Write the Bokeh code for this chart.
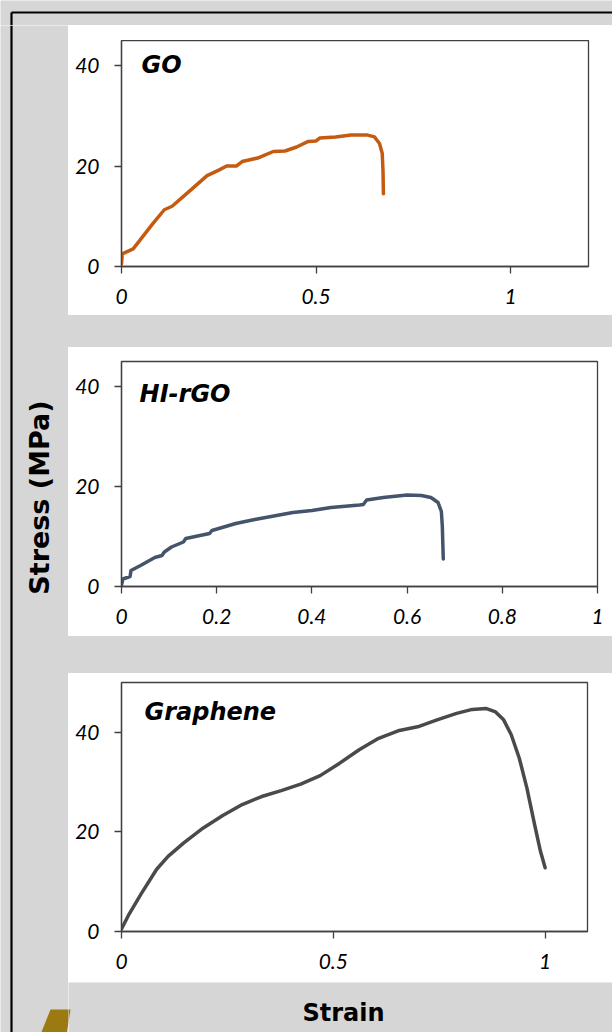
import math
from bokeh.plotting import figure
from bokeh.layouts import row, column
from bokeh.models import FixedTicker, Label, Range1d, Spacer
from bokeh.embed import file_html
from bokeh.resources import INLINE

# ---------------- data ----------------
go_strain = [0.0, 0.002, 0.03, 0.05, 0.08, 0.11, 0.13, 0.16, 0.22, 0.25, 0.27, 0.295, 0.31, 0.35,
             0.39, 0.42, 0.45, 0.48, 0.50, 0.51, 0.55, 0.59, 0.63, 0.65, 0.663, 0.67, 0.672, 0.673]
go_stress = [0.5, 2.5, 3.5, 5.5, 8.5, 11.3, 12.0, 14.0, 18.1, 19.2, 20.0, 20.0, 20.9, 21.6,
             22.9, 23.0, 23.8, 24.9, 25.0, 25.6, 25.8, 26.2, 26.2, 25.8, 24.5, 22.5, 19.0, 14.5]

hi_strain = [0.0, 0.003, 0.018, 0.02, 0.04, 0.07, 0.085, 0.09, 0.105, 0.13, 0.135, 0.17, 0.185, 0.19,
             0.24, 0.28, 0.32, 0.36, 0.40, 0.44, 0.50, 0.508, 0.515, 0.55, 0.60, 0.63, 0.65, 0.665,
             0.672, 0.674, 0.676]
hi_stress = [0.3, 1.5, 2.0, 3.2, 4.2, 5.8, 6.2, 6.9, 7.9, 8.9, 9.6, 10.3, 10.6, 11.2,
             12.6, 13.4, 14.1, 14.8, 15.2, 15.8, 16.3, 16.4, 17.3, 17.8, 18.3, 18.2, 17.8, 16.8,
             15.0, 12.0, 5.5]

gr_strain = [0.0, 0.018, 0.046, 0.083, 0.11, 0.147, 0.193, 0.239, 0.285, 0.331, 0.377, 0.423,
             0.469, 0.515, 0.561, 0.607, 0.653, 0.699, 0.745, 0.791, 0.828, 0.860, 0.883, 0.902,
             0.92, 0.939, 0.957, 0.975, 0.989, 1.0]
gr_stress = [0.5, 3.5, 7.5, 12.5, 15.1, 17.8, 20.8, 23.3, 25.5, 27.1, 28.3, 29.6,
             31.3, 33.8, 36.5, 38.8, 40.3, 41.1, 42.5, 43.8, 44.6, 44.8, 44.1, 42.5,
             39.5, 34.8, 28.8, 21.5, 16.1, 12.8]

panel_names = ["GO", "HI-rGO", "Graphene"]
x_ticks_go = [0, 0.5, 1]
x_labels_go = ["0", "0.5", "1"]
x_ticks_hi = [0, 0.2, 0.4, 0.6, 0.8, 1]
x_labels_hi = ["0", "0.2", "0.4", "0.6", "0.8", "1"]
x_ticks_gr = [0, 0.5, 1]
x_labels_gr = ["0", "0.5", "1"]
y_ticks = [0, 20, 40]
y_labels = ["0", "20", "40"]
x_label = "Strain"
y_label = "Stress (MPa)"

# ---------------- styles / geometry ----------------
BG = "#d6d6d6"
FRAME = "#404040"
GOLD = "#9c7a12"
TICK_FONT = "Lato"
TITLE_FONT = "DejaVu Sans"
FULL_W = 612
LEFT_W = 68
RIGHT_W = FULL_W - LEFT_W      # 544
B_LEFT = 53


def make_panel(h, xmax, ymax, top, bottom, right, xs, ys, color, name, name_pos, xt, xl):
    p = figure(width=RIGHT_W, height=h, x_range=Range1d(0, xmax), y_range=Range1d(0, ymax),
               output_backend="svg", toolbar_location=None,
               min_border_left=B_LEFT, min_border_right=right,
               min_border_top=top, min_border_bottom=bottom,
               background_fill_color="white", border_fill_color="white",
               outline_line_color=FRAME, outline_line_width=1.3)
    p.xgrid.visible = False
    p.ygrid.visible = False
    for ax, ticks, labels in ((p.xaxis[0], xt, xl), (p.yaxis[0], y_ticks, y_labels)):
        ax.ticker = FixedTicker(ticks=ticks)
        ax.major_label_overrides = {t: l for t, l in zip(ticks, labels)}
        ax.axis_line_color = FRAME
        ax.axis_line_width = 1.3
        ax.major_tick_line_color = FRAME
        ax.major_tick_line_width = 1.3
        ax.major_tick_in = 0
        ax.major_tick_out = 7
        ax.minor_tick_line_color = None
        ax.major_label_text_font = TICK_FONT
        ax.major_label_text_font_style = "italic"
        ax.major_label_text_font_size = "21px"
        ax.major_label_text_color = "black"
    p.yaxis[0].major_label_standoff = 15
    p.xaxis[0].major_label_standoff = 15
    p.line(xs, ys, line_color=color, line_width=3.5, line_join="round", line_cap="round")
    p.add_layout(Label(x=name_pos[0], y=name_pos[1], text=name, text_font=TITLE_FONT,
                       text_font_style="bold italic", text_font_size="24px",
                       text_color="black", text_baseline="alphabetic"))
    return p


def blank(w, h, color=BG):
    f = figure(width=w, height=h, x_range=Range1d(0, w), y_range=Range1d(h, 0),
               output_backend="svg", toolbar_location=None,
               x_axis_location=None, y_axis_location=None, min_border=0,
               background_fill_color=color, border_fill_color=color, outline_line_color=None)
    f.grid.visible = False
    return f


def gap(h, color):
    return Spacer(width=RIGHT_W, height=h, styles={"background-color": color})


# panels: frame left at page x 121; right edges 588 / 597 / 587
p1 = make_panel(275, 1.2, 45, 0, 49, 24, go_strain, go_stress,
                "#c55a11", panel_names[0], (0.0514, 40.1), x_ticks_go, x_labels_go)
p2 = make_panel(289, 1.0, 45, 14, 50, 15, hi_strain, hi_stress,
                "#44546a", panel_names[1], (0.038, 38.6), x_ticks_hi, x_labels_hi)
p3 = make_panel(309, 1.1, 50, 9, 51, 25, gr_strain, gr_stress,
                "#4a4a4a", panel_names[2], (0.0543, 44.0), x_ticks_gr, x_labels_gr)

# top bar (y 0..25)
topbar = blank(FULL_W, 25)
topbar.line([11, FULL_W], [12, 12], line_color="black", line_width=2.2)
topbar.line([11, 11], [12, 25], line_color="black", line_width=2.2)

# left strip (x 0..68, y 25..1032)
left = blank(LEFT_W, 1007)
left.line([11, 11], [0, 1007], line_color="black", line_width=2.2)
left.patch([50, 70, 66, 40], [984, 984, 1009, 1009], fill_color=GOLD, line_color=None)
left.add_layout(Label(x=39, y=472, text=y_label, angle=math.pi / 2,
                      text_font=TITLE_FONT, text_font_style="bold", text_font_size="27px",
                      text_align="center", text_baseline="middle", text_color="black"))

# bottom right (x 68..612, y 982..1032)
bottom = blank(RIGHT_W, 50)
bottom.patch([-18, 2, -2, -28], [27, 27, 52, 52], fill_color=GOLD, line_color=None)
bottom.add_layout(Label(x=343 - LEFT_W, y=30, text=x_label, text_font=TITLE_FONT,
                        text_font_style="bold", text_font_size="24px", text_align="center",
                        text_baseline="alphabetic", text_color="black"))

right_col = column(gap(15, "white"), row(p1), gap(32, BG), row(p2), gap(37, BG), row(p3),
                   bottom, spacing=0)
layout = column(topbar, row(left, right_col, spacing=0), spacing=0)

open("out.html", "w").write(file_html(layout, INLINE))
